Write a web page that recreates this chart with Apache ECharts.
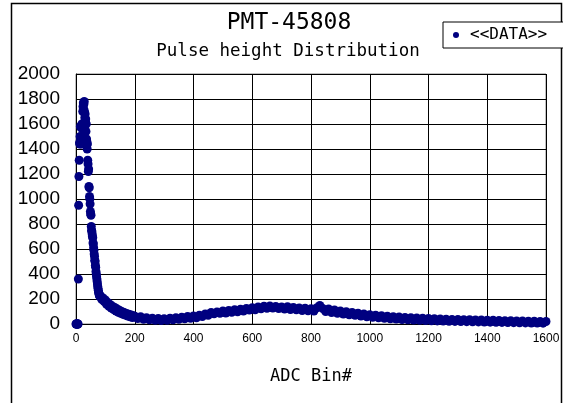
<!DOCTYPE html>
<html>
<head>
<meta charset="utf-8">
<script src="https://cdn.jsdelivr.net/npm/echarts@6/dist/echarts.min.js"></script>
<style>html,body{margin:0;padding:0;background:#fff;}#c{width:563px;height:403px;}</style>
</head>
<body>
<div id="c"></div>
<script>
// Peak region: one value per ADC bin, bins 0..82
const peakCounts = [0,0,0,0,0,0,0,0,360,950,1180,1310,1450,1440,1500,1580,1480,1570,1440,1500,
  1600,1460,1580,1700,1740,1770,1720,1760,1780,1700,1650,1680,1620,1640,1540,1600,1480,1460,1400,1440,
  1310,1280,1220,1240,1100,1090,1020,1000,960,900,880,870,780,750,740,720,700,690,650,640,
  610,590,560,540,510,500,470,455,420,400,380,360,340,320,300,285,270,255,245,235,228,222,218];
// Shoulder region: bins 84..196, every 4 bins
const shoulderStart = 84, shoulderStep = 4;
const shoulderCounts = [222,196,208,180,192,158,172,142,156,128,142,116,132,104,120,94,110,86,100,78,92,72,84,64,78,58,72,52,66];
// Tail region: bins 200..1600, every 10 bins
const tailStart = 200, tailStep = 10;
const tailCounts = [62,44,58,38,50,34,47,30,44,28,42,
  30,46,34,50,38,54,42,60,46,64,
  50,70,60,80,70,92,82,96,86,104,
  88,108,94,114,98,118,104,124,112,130,
  114,136,122,142,126,144,128,140,124,136,
  120,138,116,132,114,128,108,126,106,122,
  104,130,148,124,100,120,92,112,86,104,
  80,98,74,92,70,86,64,80,58,74,
  54,70,50,66,46,62,42,58,40,56,
  36,52,34,50,32,48,30,46,28,44,
  26,42,25,40,24,38,22,37,21,36,
  20,35,19,34,18,33,17,32,16,31,
  15,30,14,28,13,27,12,26,11,25,
  10,24,9,23,8,22,8,21,7,20];
const xTicks = [0,200,400,600,800,1000,1200,1400,1600];
const yTicks = [0,200,400,600,800,1000,1200,1400,1600,1800,2000];

const data = [];
peakCounts.forEach((v,i)=>data.push([i,v]));
shoulderCounts.forEach((v,i)=>data.push([shoulderStart+i*shoulderStep,v]));
tailCounts.forEach((v,i)=>data.push([tailStart+i*tailStep,v]));

const chart = echarts.init(document.getElementById('c'), null, {renderer:'canvas'});
const mono = '"DejaVu Sans Mono", "Liberation Mono", monospace';
chart.setOption({
  animation:false,
  backgroundColor:'#fff',
  title:[
    {text:'PMT-45808', left:284, textAlign:'center', top:7,
     textStyle:{fontFamily:mono, fontSize:23, fontWeight:'normal', color:'#000'}},
    {text:'Pulse height Distribution', left:283, textAlign:'center', top:37,
     textStyle:{fontFamily:mono, fontSize:17.5, fontWeight:'normal', color:'#000'}}
  ],
  legend:{
    left:443, top:22, orient:'horizontal',
    borderColor:'#000', borderWidth:1, backgroundColor:'#fff',
    padding:[5,25,5,10],
    icon:'circle', itemWidth:6, itemHeight:6,
    textStyle:{fontFamily:mono, fontSize:16, color:'#000', padding:[0,0,0,6]},
    data:['<<DATA>>']
  },
  graphic:[{type:'rect', shape:{x:11.5,y:3.5,width:550,height:420},
    style:{fill:null, stroke:'#000', lineWidth:1.5}, silent:true, z:-1}],
  grid:{left:76, top:74, width:470, height:250, show:true, borderColor:'#808080', borderWidth:1, backgroundColor:'#fff'},
  xAxis:{type:'value', min:xTicks[0], max:xTicks[xTicks.length-1], interval:200,
    name:'ADC Bin#', nameLocation:'middle', nameGap:44,
    nameTextStyle:{fontFamily:mono, fontSize:17, color:'#000'},
    axisLine:{show:true, lineStyle:{color:'#000', width:1}},
    axisTick:{show:false},
    axisLabel:{fontFamily:'"Liberation Sans", Arial, sans-serif', fontSize:12, color:'#000', margin:9,
      formatter:(v)=>String(v)},
    splitLine:{show:true, lineStyle:{color:'#000', width:1}}},
  yAxis:{type:'value', min:yTicks[0], max:yTicks[yTicks.length-1], interval:200,
    axisLine:{show:true, lineStyle:{color:'#000', width:1}},
    axisTick:{show:false},
    axisLabel:{fontFamily:'"Liberation Sans", Arial, sans-serif', fontSize:19, color:'#000', margin:16,
      formatter:(v)=>String(v)},
    splitLine:{show:true, lineStyle:{color:'#000', width:1}}},
  series:[{name:'<<DATA>>', type:'scatter', data:data, symbol:'circle', symbolSize:9,
    itemStyle:{color:'#000080', opacity:1}, clip:false}]
});
</script>
</body>
</html>
